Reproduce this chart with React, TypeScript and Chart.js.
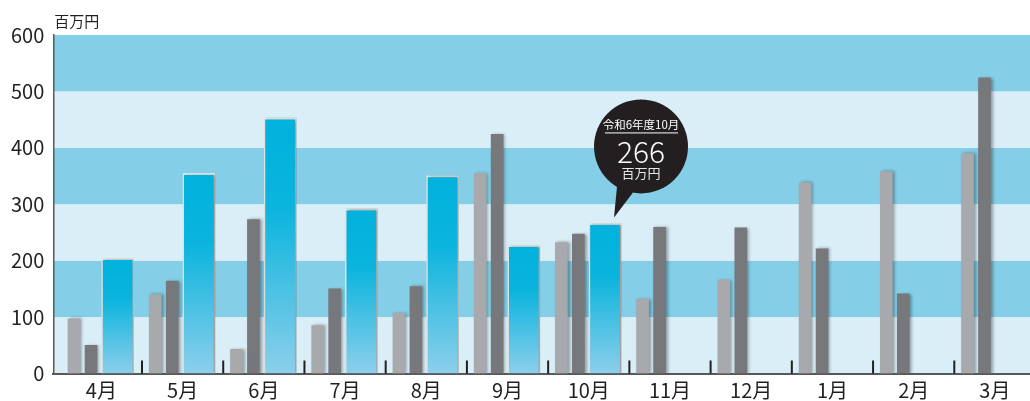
import React, { useEffect, useRef } from "react";
import { Chart, registerables } from "chart.js";

Chart.register(...registerables);

// ---- data ----
const months = ["4月", "5月", "6月", "7月", "8月", "9月", "10月", "11月", "12月", "1月", "2月", "3月"];
const seriesLight = [97, 140, 43, 85, 107, 355, 232, 132, 166, 338, 358, 390];
const seriesDark = [50, 164, 273, 150, 154, 424, 247, 259, 258, 221, 141, 524];
const seriesBlue: (number | null)[] = [204, 355, 453, 292, 351, 227, 266, null, null, null, null, null];
const yTicks = [0, 100, 200, 300, 400, 500, 600];
const unitLabel = "百万円";
const calloutPrefix = "令和6年度";
const calloutIndex = 6;

// ---- styles ----
const FONT = '"Noto Sans CJK JP", "Noto Sans", sans-serif';
const TEXT = "#231f20";
const BAND_LIGHT = "#daeef7";
const BAND_DARK = "#84cee7";
const GRAY_LIGHT = "#a7a9ac";
const GRAY_DARK = "#77787b";
const X_MIN = -0.592;
const X_MAX = 11.432;
const SHIFTS = [-0.337, -0.128, 0.2];

const toPoints = (arr: (number | null)[]) => arr.map((v, i) => ({ x: i, y: v }));

const decor = {
  id: "decor",
  beforeDraw(chart: any) {
    const { ctx, chartArea: a, scales } = chart;
    const y = scales.y;
    ctx.save();
    for (let k = 0; k < yTicks.length - 1; k++) {
      const t = y.getPixelForValue(yTicks[k + 1]);
      const b = y.getPixelForValue(yTicks[k]);
      ctx.fillStyle = k % 2 === 0 ? BAND_LIGHT : BAND_DARK;
      ctx.fillRect(a.left, t, a.right - a.left, b - t);
    }
    ctx.fillStyle = TEXT;
    ctx.font = `15px ${FONT}`;
    ctx.textBaseline = "middle";
    ctx.textAlign = "left";
    ctx.fillText(unitLabel, a.left + 1, 21.5);
    ctx.restore();
  },
  beforeDatasetsDraw(chart: any) {
    const ctx = chart.ctx;
    ctx.save();
    ctx.shadowColor = "rgba(0,0,0,0.35)";
    ctx.shadowBlur = 3;
    ctx.shadowOffsetX = 2;
    ctx.shadowOffsetY = 0;
  },
  afterDatasetsDraw(chart: any) {
    const { ctx, chartArea: a, scales } = chart;
    ctx.restore();
    const x = scales.x;
    ctx.save();
    ctx.strokeStyle = TEXT;
    ctx.lineWidth = 2;
    for (let i = 0; i < months.length - 1; i++) {
      const px = x.getPixelForValue(i + 0.5);
      ctx.beginPath();
      ctx.moveTo(px, a.bottom - 13);
      ctx.lineTo(px, a.bottom);
      ctx.stroke();
    }
    // callout
    const meta = chart.getDatasetMeta(2);
    const el = meta.data[calloutIndex];
    if (el) {
      const bx = el.x;
      const by = el.y;
      const cx = bx + 36;
      const cy = by - 77;
      const r = 47;
      ctx.fillStyle = "#231f20";
      ctx.beginPath();
      ctx.arc(cx, cy, r, 0, Math.PI * 2);
      ctx.fill();
      ctx.beginPath();
      ctx.moveTo(cx - 24, cy + 40);
      ctx.lineTo(bx + 9, by - 6);
      ctx.lineTo(cx - 8, cy + 46);
      ctx.closePath();
      ctx.fill();
      ctx.fillStyle = "#ffffff";
      ctx.textAlign = "center";
      ctx.textBaseline = "middle";
      ctx.font = `11.5px ${FONT}`;
      ctx.fillText(calloutPrefix + months[calloutIndex], cx, cy - 22);
      ctx.strokeStyle = "#ffffff";
      ctx.lineWidth = 1;
      ctx.beginPath();
      ctx.moveTo(cx - 36, cy - 13.5);
      ctx.lineTo(cx + 37, cy - 13.5);
      ctx.stroke();
      ctx.font = `300 30px ${FONT}`;
      ctx.fillText(String(seriesBlue[calloutIndex]), cx, cy + 5);
      ctx.fillStyle = "#e6e6e6";
      ctx.font = `13px ${FONT}`;
      ctx.fillText(unitLabel, cx, cy + 27);
    }
    ctx.restore();
  },
};

const blueGradient = (c: any) => {
  const chart = c.chart;
  const y = chart.scales && chart.scales.y;
  const raw = c.raw;
  if (!chart.chartArea || !y || !raw || raw.y == null) return "#00b2dc";
  const top = y.getPixelForValue(raw.y);
  const bottom = y.getPixelForValue(0);
  const g = chart.ctx.createLinearGradient(0, top, 0, bottom);
  g.addColorStop(0, "#00b2dc");
  g.addColorStop(0.35, "#0ab4dd");
  g.addColorStop(1, "#8ccfeb");
  return g;
};

const hiddenX = (shift: number) => ({
  type: "linear" as const,
  display: false,
  offset: false,
  grid: { offset: false },
  min: X_MIN - shift,
  max: X_MAX - shift,
});

export default function App() {
  const ref = useRef<HTMLCanvasElement | null>(null);

  useEffect(() => {
    if (!ref.current) return;
    const chart = new Chart(ref.current, {
      type: "bar",
      data: {
        datasets: [
          {
            data: toPoints(seriesLight) as any,
            xAxisID: "x0",
            yAxisID: "y",
            backgroundColor: GRAY_LIGHT,
            grouped: false,
            categoryPercentage: 1,
            barPercentage: 1,
            maxBarThickness: 12,
            borderWidth: 0,
          },
          {
            data: toPoints(seriesDark) as any,
            xAxisID: "x1",
            yAxisID: "y",
            backgroundColor: GRAY_DARK,
            grouped: false,
            categoryPercentage: 1,
            barPercentage: 1,
            maxBarThickness: 12,
            borderWidth: 0,
          },
          {
            data: toPoints(seriesBlue) as any,
            xAxisID: "x2",
            yAxisID: "y",
            backgroundColor: blueGradient as any,
            borderColor: "#e4e4e4",
            borderWidth: { top: 2, left: 1.5, right: 1.5, bottom: 0 } as any,
            grouped: false,
            categoryPercentage: 1,
            barPercentage: 1,
            maxBarThickness: 32,
          },
        ],
      },
      options: {
        responsive: false,
        animation: false,
        layout: { padding: { top: 35, left: 0, right: 0, bottom: 0 } },
        plugins: { legend: { display: false }, tooltip: { enabled: false }, title: { display: false } },
        scales: {
          x: {
            type: "linear",
            position: "bottom",
            min: X_MIN,
            max: X_MAX,
            offset: false,
            z: 1,
            grid: { display: false, drawTicks: false, offset: false },
            border: { display: true, color: "#58595b", width: 2 },
            afterBuildTicks: (s: any) => {
              s.ticks = months.map((_, i) => ({ value: i }));
            },
            afterFit: (s: any) => {
              s.height = 27.5;
            },
            ticks: {
              autoSkip: false,
              maxRotation: 0,
              padding: 5,
              color: TEXT,
              font: { family: FONT, size: 20 },
              callback: (v: any) => months[v as number] ?? "",
            },
          },
          x0: hiddenX(SHIFTS[0]),
          x1: hiddenX(SHIFTS[1]),
          x2: hiddenX(SHIFTS[2]),
          y: {
            type: "linear",
            position: "left",
            min: 0,
            max: 600,
            z: 1,
            grid: { display: false, drawTicks: false },
            border: { display: true, color: "#58595b", width: 1.5 },
            afterBuildTicks: (s: any) => {
              s.ticks = yTicks.map((v) => ({ value: v }));
            },
            afterFit: (s: any) => {
              s.width = 53.3;
            },
            ticks: {
              padding: 9,
              color: TEXT,
              font: { family: FONT, size: 20 },
            },
          },
        },
      },
      plugins: [decor],
    });
    return () => chart.destroy();
  }, []);

  return (
    <div style={{ position: "absolute", left: 0, top: 0, width: 1030, height: 401 }}>
      <canvas ref={ref} width={1030} height={401} style={{ display: "block" }} />
    </div>
  );
}
